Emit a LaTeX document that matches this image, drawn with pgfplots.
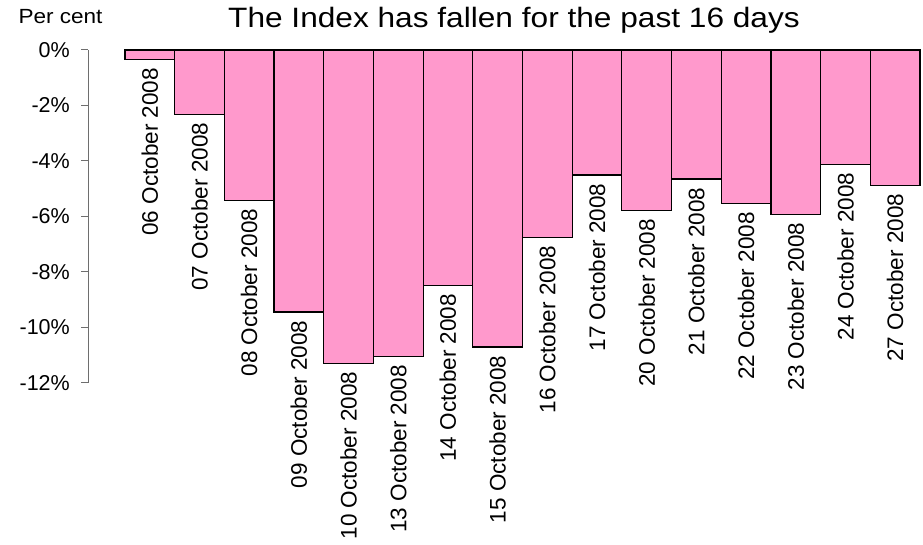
\documentclass[border=0pt]{standalone}
\usepackage{fontspec}
\setmainfont{Liberation Sans}
\usepackage{pgfplots}
\pgfplotsset{compat=1.18}
\definecolor{barpink}{HTML}{FF99CC}
\definecolor{axgray}{HTML}{6E6E6E}

\begin{document}
\begin{tikzpicture}[x=1pt,y=1pt]
\useasboundingbox (0,0) rectangle (923,545);
\begin{axis}[
    at={(88pt,162.3pt)}, anchor=south west,
    scale only axis,
    width=832pt, height=332.7pt,
    xmin=-1.244, xmax=15.5,
    ymin=-12, ymax=0,
    axis x line=none,
    axis y line*=left,
    y axis line style={axgray, line width=1pt},
    ytick={-12,-10,...,0},
    yticklabels={-12\%,-10\%,-8\%,-6\%,-4\%,-2\%,0\%},
    tick align=outside,
    major tick length=7pt,
    ytick style={axgray, line width=1pt},
    yticklabel style={font=\fontsize{21.5}{24}\selectfont, inner sep=0pt, xshift=-11pt},
    ybar, bar width=1,
    clip=false,
    nodes near coords,
    point meta=explicit symbolic,
    every node near coord/.append style={rotate=90, anchor=east,
        inner sep=0pt, inner xsep=8pt, font=\fontsize{22.5}{26}\selectfont, text=black},
]
\addplot[fill=barpink, draw=black, line width=1.2pt] coordinates {
    (0,-0.34) [06 October 2008]
    (1,-2.32) [07 October 2008]
    (2,-5.42) [08 October 2008]
    (3,-9.45) [09 October 2008]
    (4,-11.30) [10 October 2008]
    (5,-11.05) [13 October 2008]
    (6,-8.49) [14 October 2008]
    (7,-10.71) [15 October 2008]
    (8,-6.75) [16 October 2008]
    (9,-4.51) [17 October 2008]
    (10,-5.79) [20 October 2008]
    (11,-4.65) [21 October 2008]
    (12,-5.54) [22 October 2008]
    (13,-5.92) [23 October 2008]
    (14,-4.12) [24 October 2008]
    (15,-4.88) [27 October 2008]
};
\end{axis}
\node[anchor=base, xscale=1.13, font=\fontsize{28}{32}\selectfont] at (514,517) {The Index has fallen for the past 16 days};
\node[anchor=base west, xscale=1.1, font=\fontsize{20.5}{24}\selectfont, inner sep=0pt] at (18.3,521) {Per cent};
\end{tikzpicture}
\end{document}
